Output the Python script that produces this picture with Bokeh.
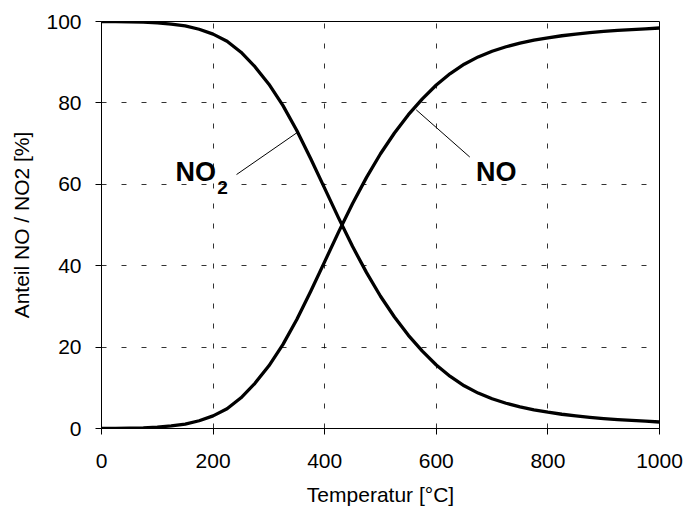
from bokeh.plotting import figure
from bokeh.models import Range1d, Label, FixedTicker, ColumnDataSource
from bokeh.embed import file_html
from bokeh.resources import INLINE

# Equilibrium share of NO and NO2 versus temperature
temperature = [0, 25, 50, 75, 100, 125, 150, 175, 200, 225, 250, 275, 300, 325,
               350, 375, 400, 425, 450, 475, 500, 525, 550, 575, 600, 625, 650,
               675, 700, 725, 750, 775, 800, 825, 850, 875, 900, 925, 950, 975, 1000]
no_share = [0.0, 0.02, 0.06, 0.15, 0.32, 0.62, 1.1, 1.9, 3.1, 4.85, 7.55, 11.1, 15.4, 20.6,
            26.8, 33.7, 41.0, 48.3, 55.3, 61.7, 67.5, 72.6, 77.1, 81.0, 84.4, 87.2, 89.5,
            91.3, 92.7, 93.8, 94.7, 95.4, 96.0, 96.5, 96.9, 97.25, 97.55, 97.8, 98.0, 98.2, 98.4]
no2_share = [100.0, 99.98, 99.94, 99.85, 99.68, 99.38, 98.9, 98.1, 96.9, 95.15, 92.45, 88.9, 84.6, 79.4,
             73.2, 66.3, 59.0, 51.7, 44.7, 38.3, 32.5, 27.4, 22.9, 19.0, 15.6, 12.8, 10.5,
             8.7, 7.3, 6.2, 5.3, 4.6, 4.0, 3.5, 3.1, 2.75, 2.45, 2.2, 2.0, 1.8, 1.6]

x_ticks = [0, 200, 400, 600, 800, 1000]
y_ticks = [0, 20, 40, 60, 80, 100]

# curve labels and their leader lines (data coordinates)
label_no2_pos = (132.6, 59.3)
label_no2_sub_pos = (207.3, 57.6)
label_no_pos = (671.0, 59.3)
leader_x0 = [242, 564]
leader_y0 = [62.4, 78.3]
leader_x1 = [350.5, 660]
leader_y1 = [72.7, 66.7]

FONT = "Liberation Sans"

p = figure(width=693, height=512, output_backend="svg", toolbar_location=None,
           x_range=Range1d(0, 1000), y_range=Range1d(0, 100),
           min_border_left=101, min_border_right=34, min_border_top=21, min_border_bottom=84)
p.background_fill_color = "white"
p.border_fill_color = "white"
p.outline_line_color = "black"
p.outline_line_width = 1

src = ColumnDataSource(dict(t=temperature, no=no_share, no2=no2_share))
p.line("t", "no2", source=src, line_color="black", line_width=3.3, line_join="round")
p.line("t", "no", source=src, line_color="black", line_width=3.3, line_join="round")

p.segment(x0=leader_x0, y0=leader_y0, x1=leader_x1, y1=leader_y1,
          line_color="black", line_width=1)

for axis, ticks in ((p.xaxis, x_ticks), (p.yaxis, y_ticks)):
    axis.ticker = FixedTicker(ticks=ticks)
    axis.major_tick_out = 6
    axis.major_tick_in = 0
    axis.minor_tick_line_color = None
    axis.axis_line_color = "black"
    axis.axis_line_width = 1
    axis.major_tick_line_color = "black"
    axis.major_label_text_font = FONT
    axis.major_label_text_font_size = "21px"
    axis.major_label_text_color = "black"
    axis.axis_label_text_font = FONT
    axis.axis_label_text_font_size = "21px"
    axis.axis_label_text_font_style = "normal"
    axis.axis_label_text_color = "black"

p.xaxis.axis_label = "Temperatur [°C]"
p.yaxis.axis_label = "Anteil NO / NO2 [%]"
p.xaxis.major_label_standoff = 19
p.yaxis.major_label_standoff = 14
p.xaxis.axis_label_standoff = 12
p.yaxis.axis_label_standoff = 10

for g in (p.xgrid, p.ygrid):
    g.grid_line_color = "black"
    g.grid_line_width = 1
    g.grid_line_dash = "5 15"
    g.grid_line_alpha = 0.8
p.xgrid.ticker = FixedTicker(ticks=x_ticks)
p.ygrid.ticker = FixedTicker(ticks=y_ticks)

p.add_layout(Label(x=label_no2_pos[0], y=label_no2_pos[1], text="NO", text_font=FONT,
                   text_font_size="27px", text_font_style="bold", text_color="black"))
p.add_layout(Label(x=label_no2_sub_pos[0], y=label_no2_sub_pos[1], text="2", text_font=FONT,
                   text_font_size="19px", text_font_style="bold", text_color="black"))
p.add_layout(Label(x=label_no_pos[0], y=label_no_pos[1], text="NO", text_font=FONT,
                   text_font_size="27px", text_font_style="bold", text_color="black"))

open("out.html", "w").write(file_html(p, INLINE))
